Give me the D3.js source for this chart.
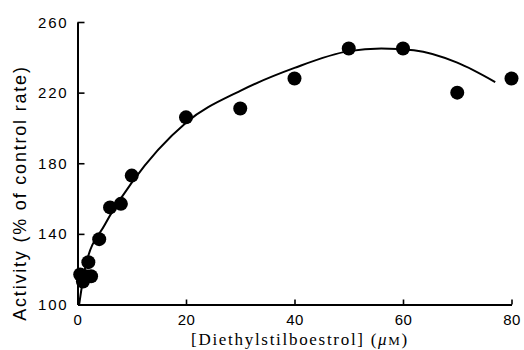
<!DOCTYPE html>
<html>
<head>
<meta charset="utf-8">
<script src="https://cdn.jsdelivr.net/npm/d3@7"></script>
<style>
body { margin: 0; background: #fff; }
svg { display: block; }
</style>
</head>
<body>
<svg id="chart" width="524" height="350"></svg>
<script>
// measured points
const conc = [0.5, 1, 1.5, 2.5, 2, 4, 6, 8, 10, 20, 30, 40, 50, 60, 70, 80];
const activity = [117, 113, 116, 116, 124, 137, 155, 157, 173, 206, 211, 228, 245, 245, 220, 228];
// fitted curve
const curveX = [0.3, 1.5, 5, 10, 20, 30, 40, 50, 56, 62, 70, 77];
const curveY = [100, 122, 145, 169, 203, 221, 234, 243.5, 245, 244, 237, 226];
const xTicks = [0, 20, 40, 60, 80];
const yTicks = [100, 140, 180, 220, 260];

const svg = d3.select("#chart");
const x = d3.scaleLinear().domain([0, 80]).range([77.5, 511.5]);
const y = d3.scaleLinear().domain([100, 260]).range([304.5, 22]);

// axes
let xAxis = svg.append("g").attr("transform", "translate(0,304.5)")
  .call(d3.axisTop(x).tickValues(xTicks).tickSize(5).tickSizeOuter(0).tickFormat(""));
let yAxis = svg.append("g").attr("transform", "translate(77.5,0)")
  .call(d3.axisRight(y).tickValues(yTicks).tickSize(7).tickSizeOuter(0).tickFormat(""));
svg.selectAll(".domain").attr("stroke", "#000").attr("stroke-width", 2);
svg.selectAll(".tick line").attr("stroke", "#000").attr("stroke-width", 1.6);
xAxis.selectAll(".tick line").filter(d => d === 0).remove();
yAxis.selectAll(".tick line").filter(d => d === 100).remove();

svg.append("g").selectAll("text").data(xTicks).join("text")
  .attr("x", d => x(d) + 0.5).attr("y", 325)
  .attr("text-anchor", "middle")
  .attr("font-family", "Liberation Sans, Arial, sans-serif").attr("font-size", 15)
  .attr("letter-spacing", 0.5)
  .text(d => d);
svg.append("g").selectAll("text").data(yTicks).join("text")
  .attr("x", 68.5).attr("y", d => y(d) + 5.5)
  .attr("text-anchor", "end")
  .attr("font-family", "Liberation Sans, Arial, sans-serif").attr("font-size", 15)
  .attr("letter-spacing", 1.8)
  .text(d => d);

// titles
svg.append("text")
  .attr("transform", "translate(26,193) rotate(-90)")
  .attr("text-anchor", "middle")
  .attr("font-family", "Liberation Sans, Arial, sans-serif").attr("font-size", 18)
  .attr("letter-spacing", 1.8)
  .text("Activity (% of control rate)");
let xt = svg.append("text")
  .attr("x", 300).attr("y", 345)
  .attr("text-anchor", "middle")
  .attr("font-family", "Liberation Serif, Times New Roman, serif").attr("font-size", 17)
  .attr("letter-spacing", 1.7);
xt.append("tspan").text("[Diethylstilboestrol] (");
xt.append("tspan").attr("font-style", "italic").text("μ");
xt.append("tspan").attr("font-size", 13).text("M");
xt.append("tspan").text(")");

// curve
let line = d3.line().x(d => x(d[0])).y(d => y(d[1])).curve(d3.curveMonotoneX);
svg.append("path")
  .attr("d", line(d3.zip(curveX, curveY)))
  .attr("fill", "none").attr("stroke", "#000").attr("stroke-width", 2);

// points
svg.append("g").selectAll("circle").data(d3.zip(conc, activity)).join("circle")
  .attr("cx", d => x(d[0])).attr("cy", d => y(d[1]))
  .attr("r", 7).attr("fill", "#000");
</script>
</body>
</html>
